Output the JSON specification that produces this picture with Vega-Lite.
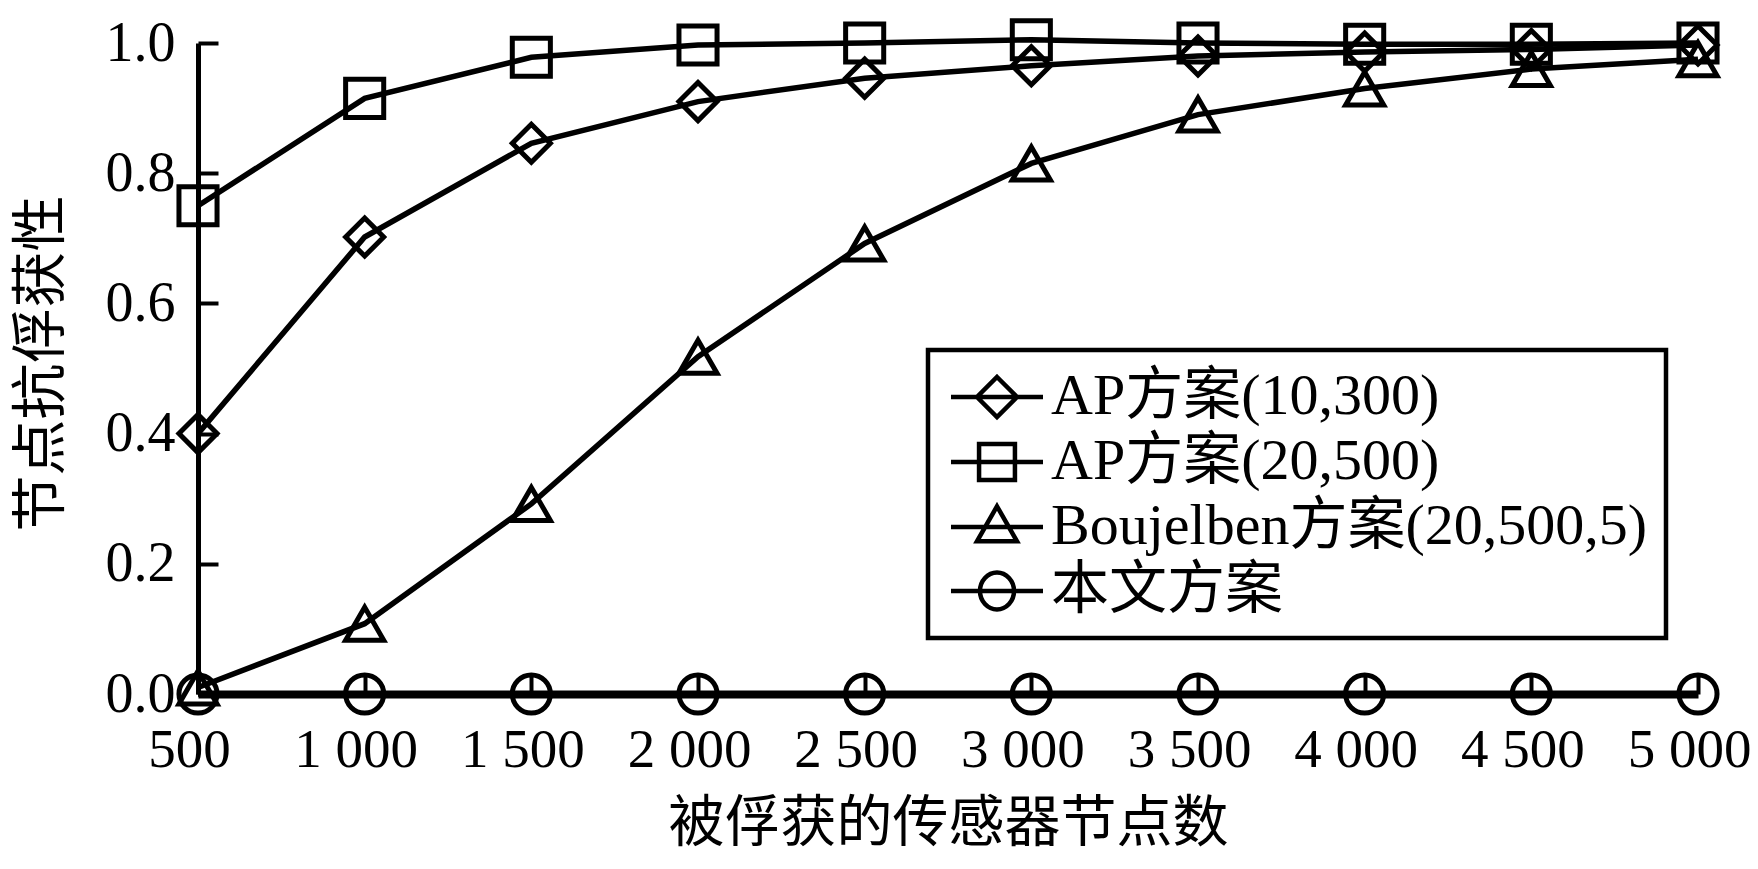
{
  "$schema": "https://vega.github.io/schema/vega-lite/v6.json",
  "width": 1500,
  "height": 651,
  "autosize": "none",
  "padding": {"left": 198, "top": 43, "right": 60, "bottom": 175},
  "background": "white",
  "config": {
    "view": {"stroke": null},
    "font": "Liberation Serif, Noto Sans CJK SC",
    "legend": {"strokeWidth": 4.5},
    "axis": {
      "labelFont": "Liberation Serif, Noto Sans CJK SC",
      "titleFont": "Liberation Serif, Noto Sans CJK SC",
      "labelColor": "black",
      "titleColor": "black",
      "titleFontWeight": "normal",
      "domainColor": "black",
      "tickColor": "black",
      "grid": false
    }
  },
  "data": {
    "values": [
      {"x": 500, "y": 0.40, "s": "AP方案(10,300)"},
      {"x": 1000, "y": 0.702, "s": "AP方案(10,300)"},
      {"x": 1500, "y": 0.846, "s": "AP方案(10,300)"},
      {"x": 2000, "y": 0.91, "s": "AP方案(10,300)"},
      {"x": 2500, "y": 0.946, "s": "AP方案(10,300)"},
      {"x": 3000, "y": 0.965, "s": "AP方案(10,300)"},
      {"x": 3500, "y": 0.98, "s": "AP方案(10,300)"},
      {"x": 4000, "y": 0.986, "s": "AP方案(10,300)"},
      {"x": 4500, "y": 0.99, "s": "AP方案(10,300)"},
      {"x": 5000, "y": 0.997, "s": "AP方案(10,300)"},
      {"x": 500, "y": 0.75, "s": "AP方案(20,500)"},
      {"x": 1000, "y": 0.915, "s": "AP方案(20,500)"},
      {"x": 1500, "y": 0.978, "s": "AP方案(20,500)"},
      {"x": 2000, "y": 0.997, "s": "AP方案(20,500)"},
      {"x": 2500, "y": 1.0, "s": "AP方案(20,500)"},
      {"x": 3000, "y": 1.005, "s": "AP方案(20,500)"},
      {"x": 3500, "y": 1.0, "s": "AP方案(20,500)"},
      {"x": 4000, "y": 0.998, "s": "AP方案(20,500)"},
      {"x": 4500, "y": 0.998, "s": "AP方案(20,500)"},
      {"x": 5000, "y": 1.0, "s": "AP方案(20,500)"},
      {"x": 500, "y": 0.01, "s": "Boujelben方案(20,500,5)"},
      {"x": 1000, "y": 0.108, "s": "Boujelben方案(20,500,5)"},
      {"x": 1500, "y": 0.292, "s": "Boujelben方案(20,500,5)"},
      {"x": 2000, "y": 0.518, "s": "Boujelben方案(20,500,5)"},
      {"x": 2500, "y": 0.692, "s": "Boujelben方案(20,500,5)"},
      {"x": 3000, "y": 0.815, "s": "Boujelben方案(20,500,5)"},
      {"x": 3500, "y": 0.89, "s": "Boujelben方案(20,500,5)"},
      {"x": 4000, "y": 0.93, "s": "Boujelben方案(20,500,5)"},
      {"x": 4500, "y": 0.96, "s": "Boujelben方案(20,500,5)"},
      {"x": 5000, "y": 0.975, "s": "Boujelben方案(20,500,5)"},
      {"x": 500, "y": 0, "s": "本文方案"},
      {"x": 1000, "y": 0, "s": "本文方案"},
      {"x": 1500, "y": 0, "s": "本文方案"},
      {"x": 2000, "y": 0, "s": "本文方案"},
      {"x": 2500, "y": 0, "s": "本文方案"},
      {"x": 3000, "y": 0, "s": "本文方案"},
      {"x": 3500, "y": 0, "s": "本文方案"},
      {"x": 4000, "y": 0, "s": "本文方案"},
      {"x": 4500, "y": 0, "s": "本文方案"},
      {"x": 5000, "y": 0, "s": "本文方案"}
    ]
  },
  "encoding": {
    "x": {
      "field": "x",
      "type": "quantitative",
      "scale": {"domain": [500, 5000], "nice": false, "zero": false},
      "axis": {
        "title": "被俘获的传感器节点数",
        "values": [500, 1000, 1500, 2000, 2500, 3000, 3500, 4000, 4500, 5000],
        "labelExpr": "replace(format(datum.value, ','), ',', ' ')",
        "labelFontSize": 55,
        "titleFontSize": 56,
        "domainWidth": 8,
        "tickWidth": 4,
        "tickSize": -20,
        "labelPadding": 49,
        "labelOffset": -9,
        "labelFlush": false,
        "labelOverlap": false,
        "titleY": 102,
        "titleBaseline": "top"
      }
    },
    "y": {
      "field": "y",
      "type": "quantitative",
      "scale": {"domain": [0, 1], "nice": false},
      "axis": {
        "title": "节点抗俘获性",
        "values": [0, 0.2, 0.4, 0.6, 0.8, 1.0],
        "format": ".1f",
        "labelFontSize": 56,
        "titleFontSize": 56,
        "domainWidth": 5,
        "tickWidth": 4,
        "tickSize": -20,
        "labelPadding": 43,
        "labelFlush": false,
        "labelOverlap": false,
        "titleX": -128,
        "titleY": 320
      }
    }
  },
  "layer": [
    {
      "mark": {"type": "line", "color": "black", "strokeWidth": 5.5},
      "encoding": {"detail": {"field": "s"}}
    },
    {
      "mark": {"type": "point", "filled": false, "color": "black", "strokeWidth": 5, "opacity": 1, "size": 1450},
      "encoding": {
        "shape": {
          "field": "s",
          "type": "nominal",
          "scale": {
            "domain": ["AP方案(10,300)", "AP方案(20,500)", "Boujelben方案(20,500,5)", "本文方案"],
            "range": ["diamond", "square", "triangle-up", "circle"]
          },
          "legend": null
        }
      }
    },
    {
      "transform": [{"filter": "datum.x < 0"}],
      "mark": {"type": "point", "filled": false, "color": "black", "strokeWidth": 4.5, "opacity": 1, "size": 2116},
      "encoding": {
        "shape": {
          "field": "s",
          "type": "nominal",
          "scale": {
            "domain": ["AP方案(10,300)", "AP方案(20,500)", "Boujelben方案(20,500,5)", "本文方案"],
            "range": [
              "M-2,0L2,0M0,-0.87L0.87,0L0,0.87L-0.87,0Z",
              "M-2,0L2,0M-0.78,-0.78L0.78,-0.78L0.78,0.78L-0.78,0.78Z",
              "M-2,0L2,0M0,-0.9L0.87,0.62L-0.87,0.62Z",
              "M-2,0L2,0M0.74,0A0.74,0.8 0 1,1 -0.74,0A0.74,0.8 0 1,1 0.74,0Z"
            ]
          },
          "legend": {
            "title": null,
            "orient": "none",
            "legendX": 730,
            "legendY": 307,
            "fillColor": "white",
            "strokeColor": "black",
            "padding": 18,
            "labelFont": "Liberation Serif, Noto Sans CJK SC",
            "labelFontSize": 58,
            "labelColor": "black",
            "labelLimit": 0,
            "labelOffset": 25,
            "rowPadding": 6,
            "symbolSize": 2116,
            "symbolStrokeWidth": 4.5,
            "symbolStrokeColor": "black",
            "symbolFillColor": "transparent",
            "symbolOffset": 22
          }
        }
      }
    }
  ],
  "resolve": {"scale": {"shape": "independent"}}
}
